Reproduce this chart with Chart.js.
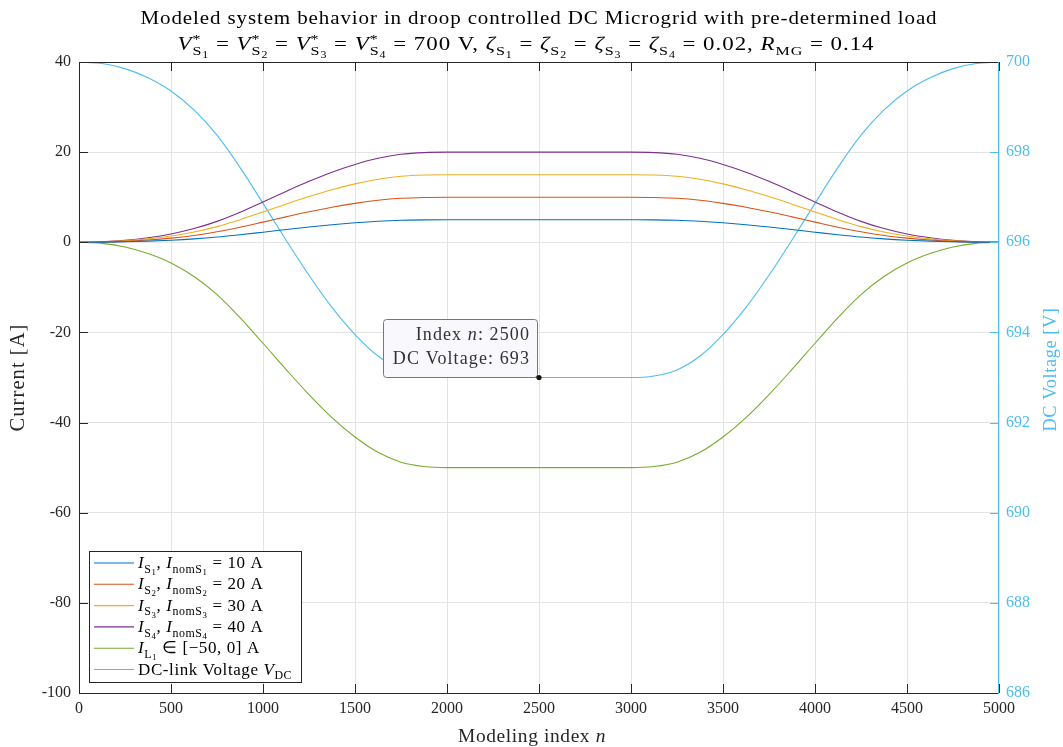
<!DOCTYPE html>
<html>
<head>
<meta charset="utf-8">
<script src="https://cdn.jsdelivr.net/npm/chart.js@4.4.0/dist/chart.umd.min.js"></script>
<style>
  html, body { margin: 0; padding: 0; background: #fff; }
</style>
</head>
<body>
<canvas id="chart" width="1063" height="747"></canvas>
<script>
// modeling index samples (step 125)
const idx = [0, 125, 250, 375, 500, 625, 750, 875, 1000, 1125, 1250, 1375, 1500, 1625, 1750, 1875,
  2000, 2125, 2250, 2375, 2500, 2625, 2750, 2875,
  3000, 3125, 3250, 3375, 3500, 3625, 3750, 3875, 4000, 4125, 4250, 4375, 4500, 4625, 4750, 4875, 5000];

// source currents [A]
const iS1 = [0, 0.025, 0.105, 0.25, 0.46, 0.76, 1.16, 1.67, 2.24, 2.82, 3.38, 3.89, 4.32, 4.66, 4.88, 4.975,
  5, 5, 5, 5, 5, 5, 5, 5,
  5, 4.975, 4.88, 4.66, 4.32, 3.89, 3.38, 2.82, 2.24, 1.67, 1.16, 0.76, 0.46, 0.25, 0.105, 0.025, 0];
const iS2 = [0, 0.05, 0.21, 0.5, 0.92, 1.52, 2.32, 3.34, 4.48, 5.64, 6.76, 7.78, 8.64, 9.32, 9.76, 9.95,
  10, 10, 10, 10, 10, 10, 10, 10,
  10, 9.95, 9.76, 9.32, 8.64, 7.78, 6.76, 5.64, 4.48, 3.34, 2.32, 1.52, 0.92, 0.5, 0.21, 0.05, 0];
const iS3 = [0, 0.075, 0.315, 0.75, 1.38, 2.28, 3.48, 5.01, 6.72, 8.46, 10.14, 11.67, 12.96, 13.98, 14.64, 14.925,
  15, 15, 15, 15, 15, 15, 15, 15,
  15, 14.925, 14.64, 13.98, 12.96, 11.67, 10.14, 8.46, 6.72, 5.01, 3.48, 2.28, 1.38, 0.75, 0.315, 0.075, 0];
const iS4 = [0, 0.1, 0.42, 1.0, 1.84, 3.04, 4.64, 6.68, 8.96, 11.28, 13.52, 15.56, 17.28, 18.64, 19.52, 19.9,
  20, 20, 20, 20, 20, 20, 20, 20,
  20, 19.9, 19.52, 18.64, 17.28, 15.56, 13.52, 11.28, 8.96, 6.68, 4.64, 3.04, 1.84, 1.0, 0.42, 0.1, 0];
// load current [A]
const iL1 = [0, -0.25, -1.05, -2.5, -4.6, -7.6, -11.6, -16.7, -22.4, -28.2, -33.8, -38.9, -43.2, -46.6, -48.8, -49.75,
  -50, -50, -50, -50, -50, -50, -50, -50,
  -50, -49.75, -48.8, -46.6, -43.2, -38.9, -33.8, -28.2, -22.4, -16.7, -11.6, -7.6, -4.6, -2.5, -1.05, -0.25, 0];
// DC-link voltage [V]
const vDC = [700, 699.965, 699.853, 699.65, 699.356, 698.936, 698.376, 697.662, 696.864, 696.052, 695.268, 694.554,
  693.952, 693.476, 693.168, 693.035,
  693, 693, 693, 693, 693, 693, 693, 693,
  693, 693.035, 693.168, 693.476, 693.952, 694.554, 695.268, 696.052, 696.864, 697.662, 698.376, 698.936,
  699.356, 699.65, 699.853, 699.965, 700];

const xTicks = [0, 500, 1000, 1500, 2000, 2500, 3000, 3500, 4000, 4500, 5000];
const yTicks = [-100, -80, -60, -40, -20, 0, 20, 40];
const y2Ticks = [686, 688, 690, 692, 694, 696, 698, 700];

const tipIndex = 20; // datatip at n = 2500

const colors = ['#0072BD', '#D95319', '#EDB120', '#7E2F8E', '#77AC30', '#4DBEEE'];
const axisColor = '#262626';
const FONT = '"Liberation Serif", "Times New Roman", serif';

// rich text pieces: k = n (normal), i (italic), sup, sub, sub2
const N = t => ({ t, k: 'n' });
const I = t => ({ t, k: 'i' });
const P = t => ({ t, k: 'sup', o: true });
const B = t => ({ t, k: 'sub' });
const BB = t => ({ t, k: 'sub2' });

function segFont(k, size) {
  let s = size;
  if (k === 'sub' || k === 'sup') s = size * 0.7;
  if (k === 'sub2') s = size * 0.52;
  return (k === 'i' ? 'italic ' : '') + s.toFixed(1) + 'px ' + FONT;
}
function segDy(k, size) {
  if (k === 'sub') return size * 0.28;
  if (k === 'sub2') return size * 0.42;
  if (k === 'sup') return -size * 0.38;
  return 0;
}
// draws a run of pieces; fitW stretches the run horizontally to a width
function rich(ctx, segs, x, y, size, align, color, spacing, fitW) {
  ctx.save();
  ctx.letterSpacing = (spacing || 0) + 'px';
  ctx.textBaseline = 'alphabetic';
  ctx.textAlign = 'left';
  ctx.fillStyle = color;
  let w = 0;
  segs.forEach(s => {
    ctx.font = segFont(s.k, size);
    s.w = ctx.measureText(s.t).width;
    if (!s.o) w += s.w;
  });
  ctx.translate(x, y);
  if (fitW) { ctx.scale(fitW / w, 1); }
  let cx = align === 'center' ? -w / 2 : align === 'right' ? -w : 0;
  segs.forEach(s => {
    ctx.font = segFont(s.k, size);
    ctx.fillText(s.t, cx, segDy(s.k, size));
    if (!s.o) cx += s.w;
  });
  ctx.restore();
}

const title1 = [N('Modeled system behavior in droop controlled DC Microgrid with pre-determined load')];
const title2 = [];
[1, 2, 3, 4].forEach(k => {
  title2.push(I('V'), P('*'), B('S'), BB(String(k)), N(k < 4 ? ' = ' : ' = 700 V, '));
});
[1, 2, 3, 4].forEach(k => {
  title2.push(I('ζ'), B('S'), BB(String(k)), N(k < 4 ? ' = ' : ' = 0.02, '));
});
title2.push(I('R'), B('MG'), N(' = 0.14'));

const legendItems = [
  [I('I'), B('S'), BB('1'), N(', '), I('I'), B('nomS'), BB('1'), N(' = 10 A')],
  [I('I'), B('S'), BB('2'), N(', '), I('I'), B('nomS'), BB('2'), N(' = 20 A')],
  [I('I'), B('S'), BB('3'), N(', '), I('I'), B('nomS'), BB('3'), N(' = 30 A')],
  [I('I'), B('S'), BB('4'), N(', '), I('I'), B('nomS'), BB('4'), N(' = 40 A')],
  [I('I'), B('L'), BB('1'), N(' ∈ [−50, 0] A')],
  [N('DC-link Voltage '), I('V'), B('DC')]
];

function pts(ys) {
  return idx.map((x, i) => ({ x: x, y: ys[i] }));
}
function line(label, ys, color, axis) {
  return {
    label: label, data: pts(ys), yAxisID: axis,
    borderColor: color, borderWidth: 1.1, pointRadius: 0,
    cubicInterpolationMode: 'monotone', fill: false
  };
}

const decor = {
  id: 'decor',
  afterDraw(chart) {
    const ctx = chart.ctx;
    const a = chart.chartArea;
    const sx = chart.scales.x, sy = chart.scales.y, sy2 = chart.scales.y2;
    ctx.save();
    // inner tick marks
    ctx.lineWidth = 1;
    ctx.strokeStyle = axisColor;
    ctx.beginPath();
    xTicks.forEach(v => {
      const px = Math.round(sx.getPixelForValue(v)) + 0.5;
      ctx.moveTo(px, a.bottom); ctx.lineTo(px, a.bottom - 9);
      ctx.moveTo(px, a.top); ctx.lineTo(px, a.top + 9);
    });
    yTicks.forEach(v => {
      const py = Math.round(sy.getPixelForValue(v)) + 0.5;
      ctx.moveTo(a.left, py); ctx.lineTo(a.left + 9, py);
    });
    ctx.stroke();
    ctx.strokeStyle = colors[5];
    ctx.beginPath();
    y2Ticks.forEach(v => {
      const py = Math.round(sy2.getPixelForValue(v)) + 0.5;
      ctx.moveTo(a.right, py); ctx.lineTo(a.right - 9, py);
    });
    ctx.stroke();
    // axes box
    ctx.strokeStyle = axisColor;
    ctx.beginPath();
    ctx.moveTo(a.right, a.top + 0.5); ctx.lineTo(a.left + 0.5, a.top + 0.5);
    ctx.lineTo(a.left + 0.5, a.bottom + 0.5); ctx.lineTo(a.right, a.bottom + 0.5);
    ctx.stroke();
    ctx.strokeStyle = colors[5];
    ctx.beginPath();
    ctx.moveTo(a.right - 0.5, a.top); ctx.lineTo(a.right - 0.5, a.bottom + 1);
    ctx.stroke();

    // titles
    const cxm = (a.left + a.right) / 2;
    rich(ctx, title1, cxm, 24, 19, 'center', '#000', 0.8, 797);
    rich(ctx, title2, cxm - 13, 50, 19, 'center', '#000', 0.8, 697);
    rich(ctx, [N('Modeling index '), I('n')], cxm - 7, 742, 19, 'center', axisColor, 0.6, 148);
    const cym = (a.top + a.bottom) / 2;
    ctx.save();
    ctx.translate(24, cym); ctx.rotate(-Math.PI / 2);
    rich(ctx, [N('Current [A]')], 0, 0, 20, 'center', axisColor, 1, 108);
    ctx.restore();
    ctx.save();
    ctx.translate(1056, cym - 8); ctx.rotate(-Math.PI / 2);
    rich(ctx, [N('DC Voltage [V]')], 0, 0, 19, 'center', colors[5], 0.6, 124);
    ctx.restore();

    // legend
    const lx = 89.5, ly = 551.5, lw = 212, lh = 131;
    ctx.fillStyle = '#fff';
    ctx.fillRect(lx, ly, lw, lh);
    ctx.strokeStyle = axisColor;
    ctx.lineWidth = 1;
    ctx.strokeRect(lx, ly, lw, lh);
    legendItems.forEach((segs, i) => {
      const ry = 563 + i * 21.3;
      ctx.strokeStyle = colors[i];
      ctx.lineWidth = 1.1;
      ctx.beginPath();
      ctx.moveTo(94, ry); ctx.lineTo(134, ry);
      ctx.stroke();
      rich(ctx, segs, 138, ry + 5, 17, 'left', '#000', 0.6);
    });

    // datatip
    const px = sx.getPixelForValue(idx[tipIndex]);
    const py = sy2.getPixelForValue(vDC[tipIndex]);
    const bx = px - 156, by = py - 59, bw = 154, bh = 58;
    ctx.fillStyle = '#f8f8fd';
    ctx.strokeStyle = '#767676';
    ctx.lineWidth = 1;
    ctx.beginPath();
    ctx.roundRect(Math.round(bx) + 0.5, Math.round(by) + 0.5, bw, bh, 3);
    ctx.fill(); ctx.stroke();
    rich(ctx, [N('Index '), I('n'), N(': ' + idx[tipIndex])], bx + bw - 7, by + 21, 18, 'right', '#333', 1.1);
    rich(ctx, [N('DC Voltage: ' + vDC[tipIndex])], bx + bw - 7, by + 45, 18, 'right', '#333', 1.1);
    ctx.fillStyle = '#111';
    ctx.beginPath();
    ctx.arc(px, py, 2.6, 0, Math.PI * 2);
    ctx.fill();
    ctx.restore();
  }
};

const tickFont = { family: FONT, size: 16 };

const config = {
  type: 'line',
  data: {
    datasets: [
      line('I_S1', iS1, colors[0], 'y'),
      line('I_S2', iS2, colors[1], 'y'),
      line('I_S3', iS3, colors[2], 'y'),
      line('I_S4', iS4, colors[3], 'y'),
      line('I_L1', iL1, colors[4], 'y'),
      line('V_DC', vDC, colors[5], 'y2')
    ]
  },
  options: {
    responsive: false,
    animation: false,
    layout: { padding: { top: 62, left: 0, right: 0, bottom: 0 } },
    plugins: { legend: { display: false }, tooltip: { enabled: false }, title: { display: false } },
    scales: {
      x: {
        type: 'linear', min: 0, max: 5000,
        afterBuildTicks: s => { s.ticks = xTicks.map(v => ({ value: v })); },
        afterFit: s => { s.height = 54; },
        ticks: { color: axisColor, font: tickFont, padding: 6, maxRotation: 0, callback: v => String(v) },
        grid: { color: '#e3e3e3', drawTicks: false },
        border: { display: false }
      },
      y: {
        position: 'left', min: -100, max: 40,
        afterBuildTicks: s => { s.ticks = yTicks.map(v => ({ value: v })); },
        afterFit: s => { s.width = 79; },
        ticks: { color: axisColor, font: tickFont, padding: 8, callback: v => String(v) },
        grid: { color: '#e3e3e3', drawTicks: false },
        border: { display: false }
      },
      y2: {
        position: 'right', min: 686, max: 700,
        afterBuildTicks: s => { s.ticks = y2Ticks.map(v => ({ value: v })); },
        afterFit: s => { s.width = 64; },
        ticks: { color: colors[5], font: tickFont, padding: 7, callback: v => String(v) },
        grid: { drawOnChartArea: false, drawTicks: false },
        border: { display: false }
      }
    }
  },
  plugins: [decor]
};

window.addEventListener('DOMContentLoaded', () => {
  const canvas = document.getElementById('chart');
  new Chart(canvas.getContext('2d'), config);
});
</script>
</body>
</html>
